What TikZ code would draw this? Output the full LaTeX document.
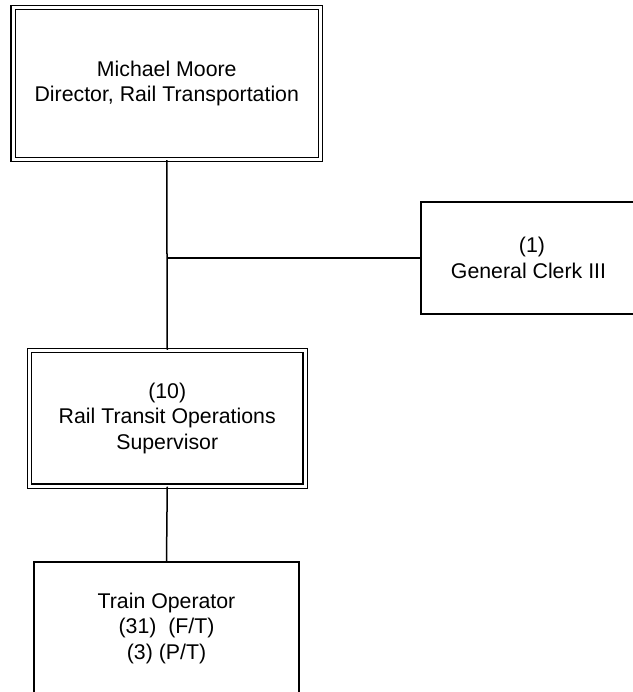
\documentclass[tikz,border=0pt]{standalone}
\usepackage{fontspec}
\setmainfont{Liberation Sans}
\begin{document}
\begin{tikzpicture}[x=1pt,y=-1pt,
  box/.style={draw, line width=1.5pt, inner sep=0pt, align=center,
    font=\fontsize{21.3}{25.5}\selectfont},
  dbox/.style={box, double, double distance=3pt, line width=1.4pt},
  conn/.style={line width=1.5pt}]
\useasboundingbox (0,0) rectangle (632,692);
\node[dbox, minimum width=307.5pt, minimum height=152pt] (dir) at (166.75,83.5)
  {Michael Moore\\Director, Rail Transportation};
\node[box, minimum width=222pt, minimum height=112pt] (clerk) at (532,258)
  {(1)\\\hspace*{-7pt}General Clerk III};
\node[dbox, minimum width=275.5pt, minimum height=135.5pt] (sup) at (167.25,418.25)
  {(10)\\Rail Transit Operations\\Supervisor};
\node[box, minimum width=265pt, minimum height=132pt] (op) at (166.5,628)
  {Train Operator\\(31)\ \ (F/T)\\(3) (P/T)};
\coordinate (j) at (dir.south |- clerk.west);
\draw[conn] (dir.south) -- (sup.north);
\draw[conn] (j) -- (clerk.west);
\draw[conn] (sup.south) -- (op.north);
\end{tikzpicture}
\end{document}
